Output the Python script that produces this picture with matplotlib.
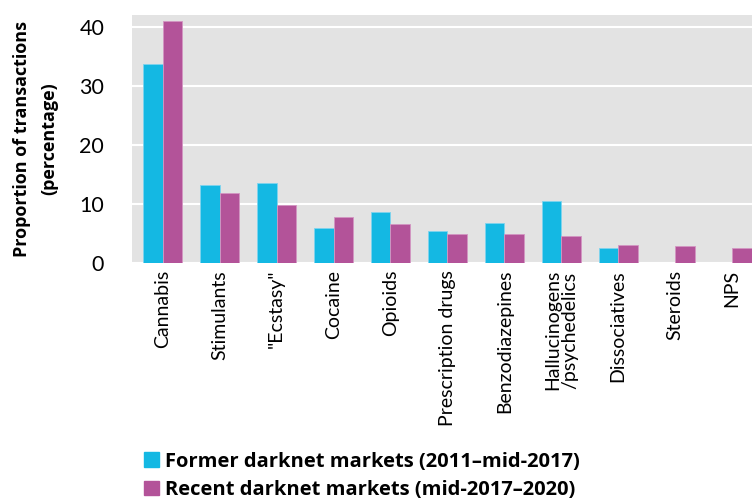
import matplotlib.pyplot as plt
import numpy as np
from matplotlib.patches import Patch

categories = ["Cannabis", "Stimulants", "\"Ecstasy\"", "Cocaine", "Opioids",
              "Prescription drugs", "Benzodiazepines", "Hallucinogens\n/psychedelics",
              "Dissociatives", "Steroids", "NPS"]
former = [33.7, 13.2, 13.5, 5.9, 8.6, 5.4, 6.8, 10.5, 2.5, 0, 0]
recent = [40.9, 11.9, 9.8, 7.8, 6.6, 4.9, 4.9, 4.6, 3.0, 2.9, 2.5]
series_labels = ["Former darknet markets (2011\u2013mid-2017)",
                 "Recent darknet markets (mid-2017\u20132020)"]

c_former = "#14B8E3"
c_recent = "#B35399"

plt.rcParams['font.family'] = ['Lato', 'DejaVu Sans']
bold_font = ['Open Sans', 'DejaVu Sans']

fig = plt.figure(figsize=(7.52, 4.99), dpi=100)
ax = fig.add_axes([132/752, (499-263)/499, 1-132/752, 248/499])
ax.set_facecolor("#E3E3E3")

x = np.arange(len(categories))
w = 0.345
ax.bar(x - w/2, former, w, color=c_former, edgecolor="#7FD4EE", linewidth=0.6, zorder=3)
ax.bar(x + w/2, recent, w, color=c_recent, edgecolor="#D396C2", linewidth=0.6, zorder=3)

ax.set_ylim(0, 42)
ax.set_xlim(-0.5 - 0.04, 10.35)
ax.set_yticks([0, 10, 20, 30, 40])
ax.yaxis.grid(True, color="white", linewidth=1.5, zorder=0)
ax.set_axisbelow(True)
for s in ax.spines.values():
    s.set_visible(False)
ax.tick_params(axis="both", length=0)
ax.tick_params(axis="y", labelsize=15.5, pad=20)
ax.tick_params(axis="x", pad=5)
ax.set_xticks(x)
ax.set_xticklabels(categories, rotation=90, fontsize=14, va="top", linespacing=1.0)
ax.set_ylabel("Proportion of transactions\n(percentage)", fontsize=13,
              fontweight="bold", family=bold_font, labelpad=15, linespacing=1.65)

handles = [Patch(color=c_former), Patch(color=c_recent)]
fig.legend(handles, series_labels, loc="lower left", bbox_to_anchor=(134/752, -0.022),
           frameon=False, prop={"weight": "bold", "size": 14.5, "family": bold_font},
           handlelength=0.75, handleheight=0.75, handletextpad=0.3, labelspacing=0.4,
           borderaxespad=0.1)

fig.savefig("out.png", dpi=100)
